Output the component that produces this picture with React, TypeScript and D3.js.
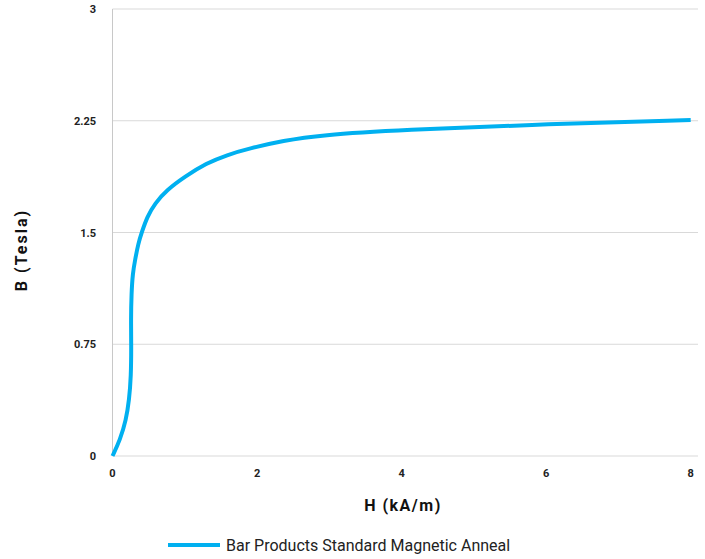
import { useRef, useEffect } from "react";
import * as d3 from "d3";

// H (kA/m) vs B (Tesla)
const hValues = [0, 0.104, 0.187, 0.23, 0.256, 0.26, 0.255, 0.262, 0.28, 0.312, 0.357, 0.404, 0.48, 0.588, 0.75, 1.0, 1.3, 1.58, 1.9, 2.36, 2.87, 3.98, 6.05, 8];
const bValues = [0, 0.107, 0.24, 0.376, 0.532, 0.743, 0.913, 1.09, 1.226, 1.315, 1.427, 1.5, 1.606, 1.696, 1.785, 1.875, 1.965, 2.02, 2.065, 2.116, 2.154, 2.188, 2.228, 2.255];
const xTicks = [0, 2, 4, 6, 8];
const yTicks = [0, 0.75, 1.5, 2.25, 3];
const seriesName = "Bar Products Standard Magnetic Anneal";

const W = 705;
const H = 559;

const App = () => {
  const ref = useRef<SVGSVGElement>(null);

  useEffect(() => {
    const svg = d3.select(ref.current);
    svg.selectAll("*").remove();

    const left = 112.5, right = 698, top = 9, bottom = 456;
    const x = d3.scaleLinear().domain([0, 8]).range([left, 690.7]);
    const y = d3.scaleLinear().domain([0, 3]).range([bottom, top]);
    const font = "Roboto, 'DejaVu Sans', sans-serif";

    // gridlines
    svg.append("g")
      .selectAll("line")
      .data(yTicks)
      .join("line")
      .attr("x1", left)
      .attr("x2", right)
      .attr("y1", (d) => y(d))
      .attr("y2", (d) => y(d))
      .attr("stroke", "#d9d9d9")
      .attr("stroke-width", 1);

    // left axis line
    svg.append("line")
      .attr("x1", left).attr("x2", left)
      .attr("y1", top).attr("y2", bottom)
      .attr("stroke", "#c8c8c8");

    // y tick labels
    svg.append("g")
      .selectAll("text")
      .data(yTicks)
      .join("text")
      .attr("x", 96)
      .attr("y", (d) => y(d) + 4)
      .attr("text-anchor", "end")
      .style("font-family", font)
      .style("font-size", "11px")
      .style("font-weight", "bold")
      .attr("fill", "#222")
      .text((d) => String(d));

    // x tick labels
    svg.append("g")
      .selectAll("text")
      .data(xTicks)
      .join("text")
      .attr("x", (d) => x(d))
      .attr("y", 477)
      .attr("text-anchor", "middle")
      .style("font-family", font)
      .style("font-size", "11px")
      .style("font-weight", "bold")
      .attr("fill", "#222")
      .text((d) => String(d));

    // axis titles
    svg.append("text")
      .attr("x", 403)
      .attr("y", 511)
      .attr("text-anchor", "middle")
      .style("font-family", font)
      .style("font-size", "16px")
      .style("font-weight", "bold")
      .style("letter-spacing", "1.5px")
      .attr("fill", "#111")
      .text("H (kA/m)");

    svg.append("text")
      .attr("transform", `translate(27,${250}) rotate(-90)`)
      .attr("text-anchor", "middle")
      .style("font-family", font)
      .style("font-size", "16px")
      .style("font-weight", "bold")
      .style("letter-spacing", "2px")
      .attr("fill", "#111")
      .text("B (Tesla)");

    // curve
    const pts: [number, number][] = hValues.map((h, i) => [h, bValues[i]]);
    const line = d3.line<[number, number]>()
      .x((d) => x(d[0]))
      .y((d) => y(d[1]))
      .curve(d3.curveBasis);

    svg.append("path")
      .attr("d", line(pts))
      .attr("fill", "none")
      .attr("stroke", "#00b0f0")
      .attr("stroke-width", 4)
      .attr("stroke-linecap", "butt");

    // legend
    svg.append("line")
      .attr("x1", 168).attr("x2", 220)
      .attr("y1", 545).attr("y2", 545)
      .attr("stroke", "#00b0f0")
      .attr("stroke-width", 4);

    svg.append("text")
      .attr("x", 226)
      .attr("y", 551)
      .style("font-family", font)
      .style("font-size", "16px")
      .attr("fill", "#222")
      .text(seriesName);
  }, []);

  return (
    <svg
      ref={ref}
      width={W}
      height={H}
      style={{ position: "absolute", left: 0, top: 0, background: "#fff" }}
    />
  );
};

export default App;
